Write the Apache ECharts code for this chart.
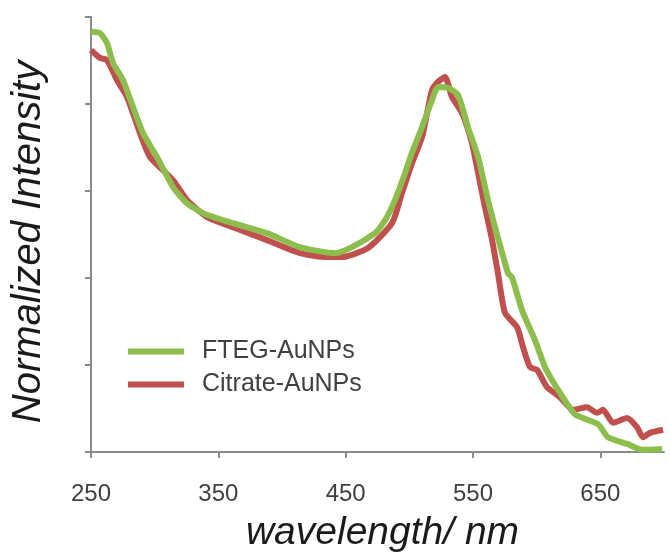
<!DOCTYPE html>
<html>
<head>
<meta charset="utf-8">
<script src="https://cdn.jsdelivr.net/npm/echarts@6/dist/echarts.min.js"></script>
<style>html,body{margin:0;padding:0;background:#fff}#c{width:670px;height:554px}</style>
</head>
<body>
<div id="c"></div>
<script>
const xTicks = [250, 350, 450, 550, 650];
const seriesNames = ['FTEG-AuNPs', 'Citrate-AuNPs'];

const ftegWl = [250, 257, 262.6, 267.3, 275.1, 283, 290.8, 301.8, 314.4, 325.4, 338, 361.5, 388.2, 414.1, 441.6, 455, 473, 481, 488.7, 496.6, 502, 510, 517.8, 522.5, 530.4, 538.2, 546, 554, 561.8, 567.3, 577.5, 580.6, 588.5, 598.7, 606.6, 616.8, 630.1, 648.2, 656, 671.7, 682.7, 698.4];
const ftegVal = [0.966, 0.963, 0.940, 0.894, 0.855, 0.793, 0.733, 0.678, 0.609, 0.572, 0.549, 0.526, 0.503, 0.471, 0.457, 0.471, 0.503, 0.533, 0.579, 0.641, 0.687, 0.747, 0.809, 0.839, 0.837, 0.821, 0.747, 0.678, 0.579, 0.517, 0.411, 0.402, 0.326, 0.257, 0.195, 0.143, 0.087, 0.064, 0.034, 0.018, 0.005, 0.007];

const citWl = [250, 257, 262.6, 270.4, 278.3, 288.5, 296.3, 314.4, 325.4, 341.1, 361.5, 388.2, 414.1, 435.3, 447.1, 467.5, 486.4, 494.2, 502.1, 510, 517.8, 522.5, 528, 533.5, 541.4, 549.2, 554, 559.4, 565, 569.6, 575.1, 584.6, 589.3, 594.8, 600.3, 608.1, 618.3, 628.5, 639.5, 647.4, 652.1, 660, 671, 678.8, 683.5, 689, 699.2];
const citVal = [0.924, 0.906, 0.901, 0.855, 0.816, 0.733, 0.678, 0.625, 0.579, 0.540, 0.517, 0.487, 0.457, 0.448, 0.448, 0.469, 0.526, 0.595, 0.664, 0.724, 0.832, 0.851, 0.862, 0.816, 0.779, 0.710, 0.641, 0.563, 0.487, 0.411, 0.320, 0.287, 0.241, 0.195, 0.189, 0.149, 0.126, 0.097, 0.103, 0.090, 0.097, 0.067, 0.078, 0.057, 0.034, 0.044, 0.051];

const pair = (xs, ys) => xs.map((x, i) => [x, ys[i]]);

const chart = echarts.init(document.getElementById('c'), null, {renderer: 'canvas'});
const axisGray = '#8a8a8a';
chart.setOption({
  animation: false,
  backgroundColor: '#ffffff',
  grid: {left: 91, right: 6, top: 17, bottom: 102, containLabel: false, outerBoundsMode: 'none'},
  legend: {
    data: seriesNames,
    orient: 'vertical',
    left: 128,
    top: 339,
    padding: 0,
    itemWidth: 56,
    itemHeight: 6,
    itemGap: 8,
    icon: 'rect',
    textStyle: {fontFamily: 'Liberation Sans', fontSize: 25, color: '#404040', padding: [0, 0, 0, 13]}
  },
  xAxis: {
    type: 'value',
    min: 250,
    max: 700,
    name: 'wavelength/ nm',
    nameLocation: 'middle',
    nameGap: 62,
    nameTextStyle: {fontFamily: 'Liberation Sans', fontStyle: 'italic', fontSize: 39, color: '#1a1a1a', padding: [0, 0, 0, 10]},
    axisLine: {lineStyle: {color: axisGray, width: 2}},
    axisTick: {show: true, inside: false, length: 6, customValues: xTicks, lineStyle: {color: axisGray, width: 2}},
    axisLabel: {customValues: xTicks, margin: 30, fontFamily: 'Liberation Sans', fontSize: 24, color: '#404040'},
    splitLine: {show: false}
  },
  yAxis: {
    type: 'value',
    min: 0,
    max: 1,
    interval: 0.2,
    name: 'Normalized Intensity',
    nameLocation: 'middle',
    nameGap: 42,
    nameTextStyle: {fontFamily: 'Liberation Sans', fontStyle: 'italic', fontSize: 40, color: '#1a1a1a', padding: [0, 15, 0, 0]},
    axisLine: {show: true, lineStyle: {color: axisGray, width: 2}},
    axisTick: {show: true, inside: false, length: 6, lineStyle: {color: axisGray, width: 2}},
    axisLabel: {show: false},
    splitLine: {show: false}
  },
  series: [
    {
      name: 'Citrate-AuNPs',
      type: 'line',
      data: pair(citWl, citVal),
      showSymbol: false,
      smooth: 0.2,
      color: '#c0504d',
      lineStyle: {width: 6, color: '#c0504d'},
      z: 2
    },
    {
      name: 'FTEG-AuNPs',
      type: 'line',
      data: pair(ftegWl, ftegVal),
      showSymbol: false,
      smooth: 0.2,
      color: '#8dbd4c',
      lineStyle: {width: 6, color: '#8dbd4c'},
      z: 3
    }
  ]
});
</script>
</body>
</html>
